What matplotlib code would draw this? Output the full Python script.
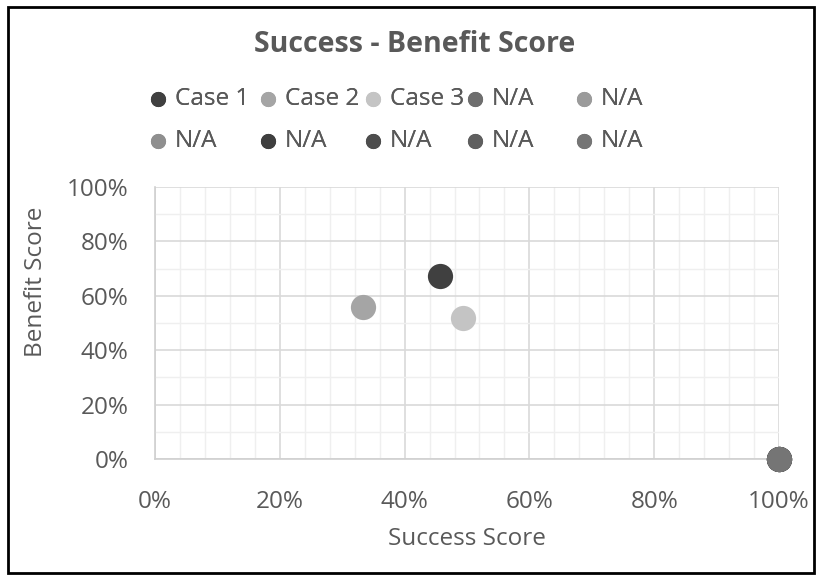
from matplotlib import pyplot as plt
from matplotlib.ticker import MultipleLocator, PercentFormatter
from matplotlib.patches import Rectangle

# series data (fractions)
labels = ["Case 1", "Case 2", "Case 3", "N/A", "N/A",
          "N/A", "N/A", "N/A", "N/A", "N/A"]
success = [0.457, 0.333, 0.494, 1.0, 1.0, 1.0, 1.0, 1.0, 1.0, 1.0]
benefit = [0.673, 0.559, 0.518, 0.0, 0.0, 0.0, 0.0, 0.0, 0.0, 0.0]
colors = ["#404040", "#a5a5a5", "#c4c4c4", "#6e6e6e", "#9b9b9b",
          "#8f8f8f", "#3f3f3f", "#4d4d4d", "#5f5f5f", "#757575"]

# legend slot centres in figure pixels (row-major)
legend_x = [157, 267, 372, 474, 583, 157, 267, 372, 474, 583]
legend_y = [99, 99, 99, 99, 99, 141, 141, 141, 141, 141]

TXT = "#595959"
W, H = 823, 578
FS = 17.5


def main():
    plt.rcParams['font.family'] = ['Open Sans', 'DejaVu Sans']
    fig = plt.figure(figsize=(W / 100, H / 100), dpi=100)
    ax = fig.add_axes([155 / W, 1 - 459 / H, 624 / W, 272 / H])

    handles = []
    for x, y, c, lab in zip(success, benefit, colors, labels):
        h = ax.scatter([x], [y], s=330, color=c, label=lab, zorder=3,
                       clip_on=False, linewidths=0)
        handles.append(h)

    ax.set_xlim(0, 1)
    ax.set_ylim(0, 1)
    ax.xaxis.set_major_locator(MultipleLocator(0.2))
    ax.xaxis.set_minor_locator(MultipleLocator(0.04))
    ax.yaxis.set_major_locator(MultipleLocator(0.2))
    ax.yaxis.set_minor_locator(MultipleLocator(0.1))
    ax.xaxis.set_major_formatter(PercentFormatter(1.0, decimals=0))
    ax.yaxis.set_major_formatter(PercentFormatter(1.0, decimals=0))
    ax.grid(which='major', color='#d9d9d9', lw=1.2)
    ax.grid(which='minor', color='#efefef', lw=1.0)
    ax.set_axisbelow(True)
    ax.tick_params(which='both', length=0, labelsize=FS, labelcolor=TXT)
    ax.tick_params(axis='x', pad=22)
    ax.tick_params(axis='y', pad=19)
    for side in ['top', 'right']:
        ax.spines[side].set_visible(False)
    for side in ['left', 'bottom']:
        ax.spines[side].set_color('#d0d0d0')
        ax.spines[side].set_linewidth(1.2)

    ax.set_xlabel("Success Score", fontsize=FS, color=TXT, labelpad=10)
    ax.set_ylabel("Benefit Score", fontsize=FS, color=TXT)
    ax.yaxis.set_label_coords(-0.172, 0.65)

    fig.text(415 / W, 1 - 44 / H, "Success - Benefit Score", ha='center',
             va='center', fontsize=20.5, fontweight='bold', color=TXT)

    # one legend box per entry so the slots sit on an even grid
    for h, lab, lx, ly in zip(handles, labels, legend_x, legend_y):
        leg = fig.legend([h], [lab], loc='center left',
                         bbox_to_anchor=(lx / W - 0.011, 1 - ly / H),
                         frameon=False, fontsize=FS, markerscale=0.6,
                         handletextpad=0.3, handlelength=0.8,
                         borderpad=0, borderaxespad=0, labelcolor=TXT)
        fig.add_artist(leg)

    fig.add_artist(Rectangle((8 / W, 1 - 573 / H), 806 / W, 566 / H,
                             transform=fig.transFigure, fill=False,
                             edgecolor='black', lw=2))

    plt.savefig('out.png', dpi=100)


if __name__ == "__main__":
    main()
